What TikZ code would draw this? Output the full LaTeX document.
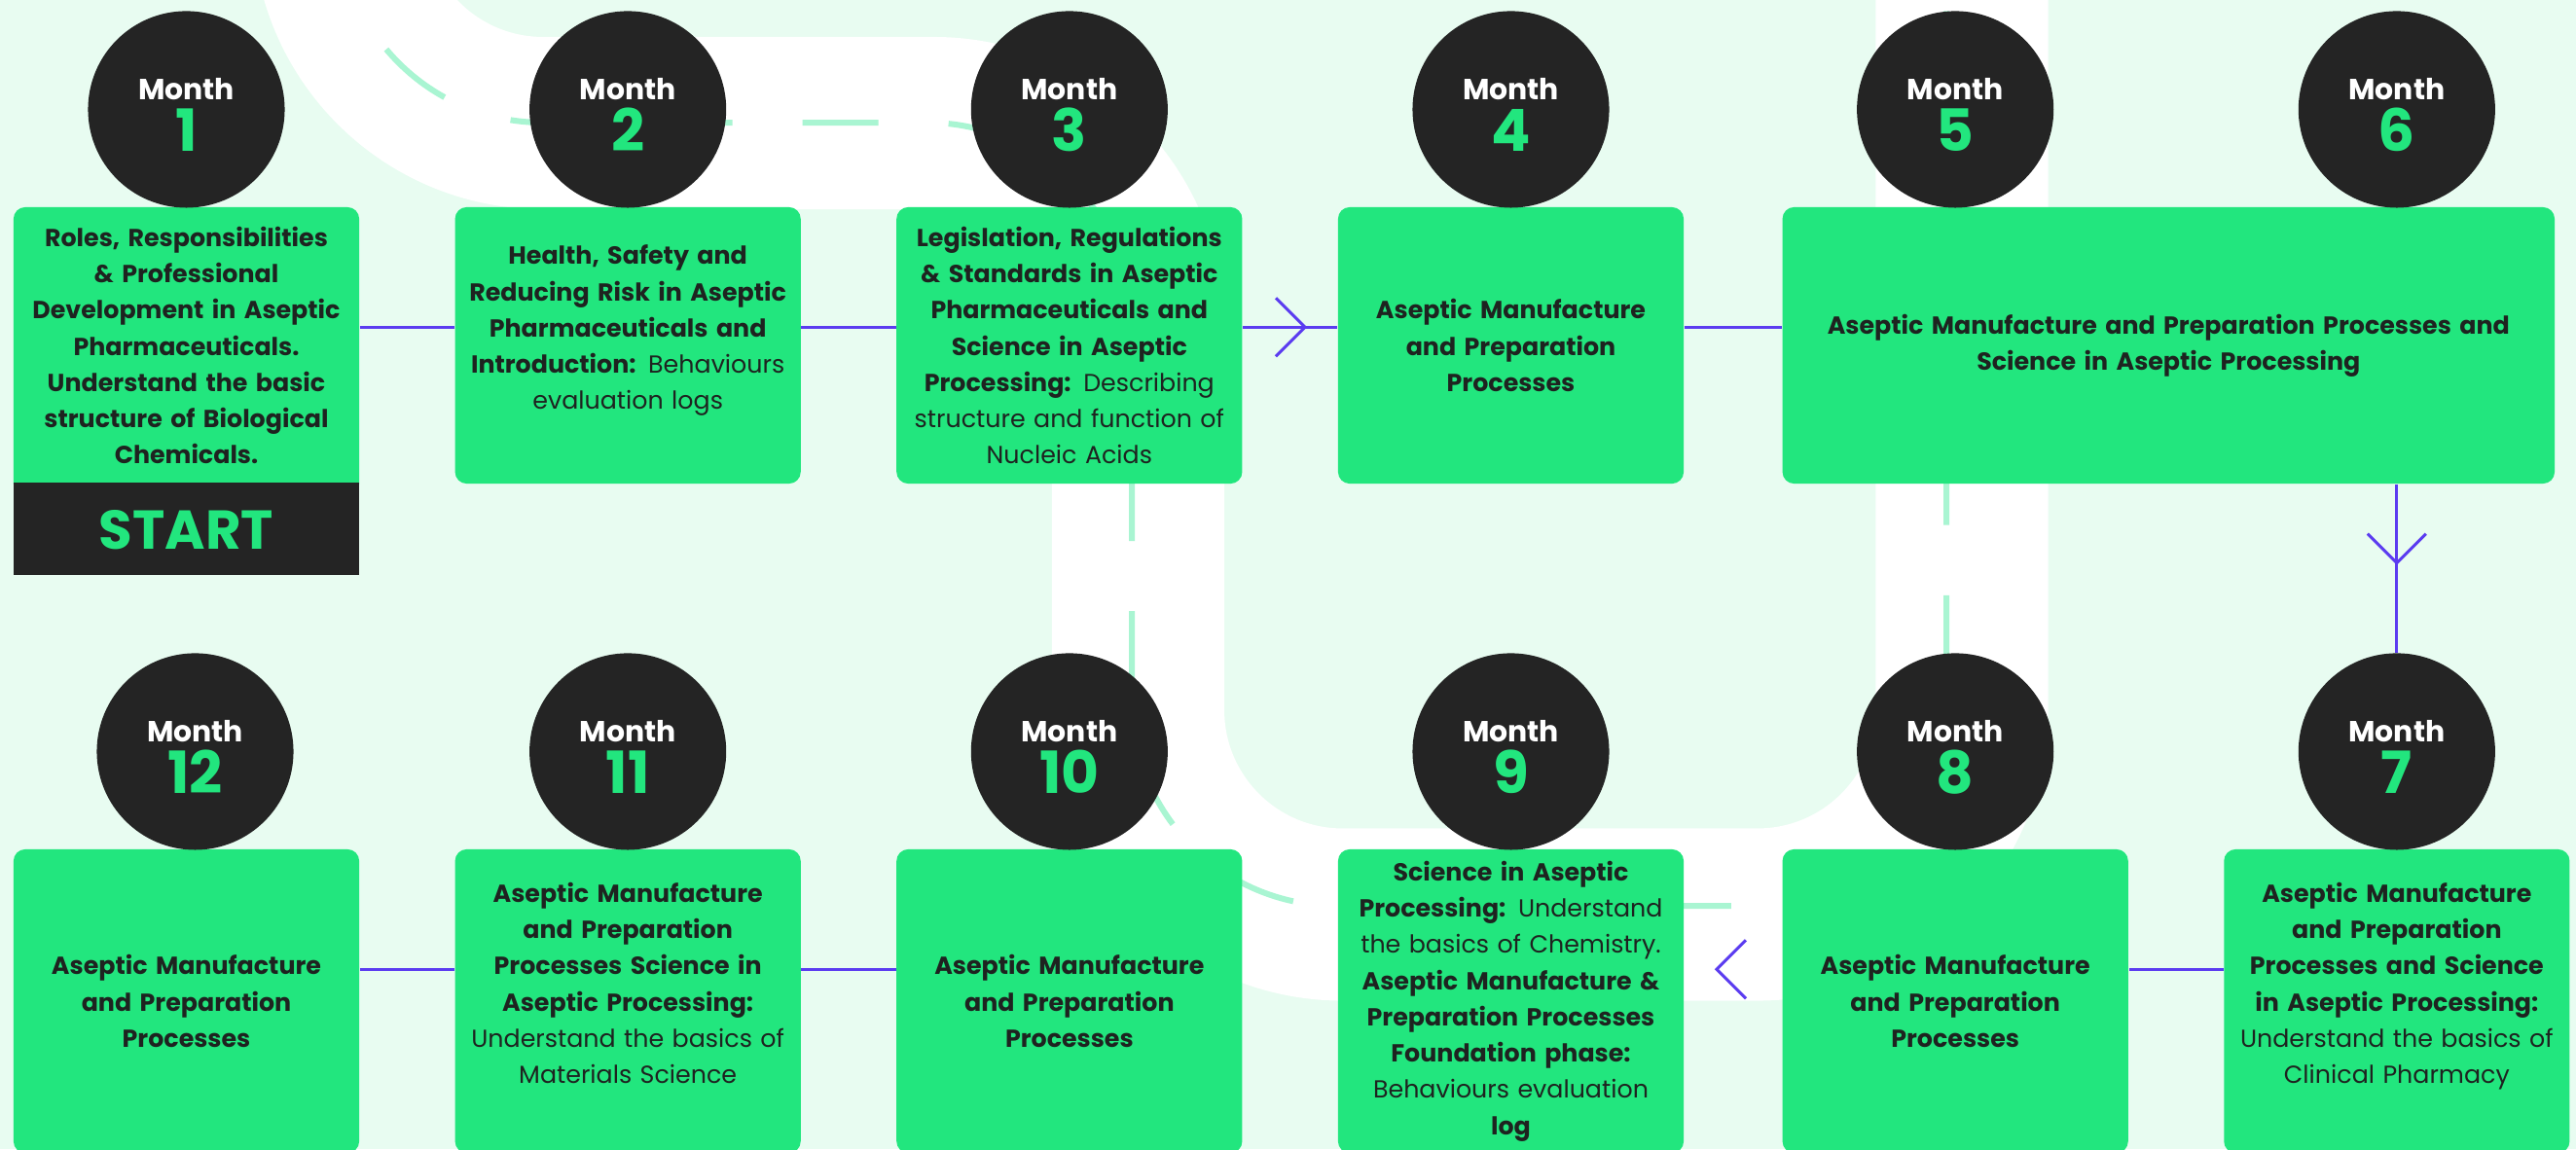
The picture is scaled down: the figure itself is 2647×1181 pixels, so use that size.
\documentclass[tikz,border=0pt]{standalone}
\usepackage{fontspec}
\setmainfont{Poppins}
\usepackage{xcolor}
\usetikzlibrary{arrows.meta,positioning,calc,decorations.markings}

\definecolor{bgmint}{HTML}{E8FCF1}
\definecolor{lanemint}{HTML}{A9F5D2}
\definecolor{boxgreen}{HTML}{22E67E}
\definecolor{numgreen}{HTML}{22E67E}
\definecolor{circdark}{HTML}{242424}
\definecolor{txtdark}{HTML}{1E2320}
\definecolor{linkpurple}{HTML}{5B3CF0}

\newcommand\mnum[1]{{\fontsize{17}{17}\selectfont\color{numgreen}#1}}

\begin{document}
\begin{tikzpicture}[
    x=0.01cm, y=-0.01cm,
    box/.style={rectangle, rounded corners=0.12cm, fill=boxgreen, text=txtdark,
                minimum width=3.55cm, minimum height=#1, text width=3.45cm,
                align=center, inner sep=0pt, font=\fontsize{7.2}{10.6}\selectfont},
    box/.default=2.84cm,
    month/.style={circle, fill=circdark, minimum size=2.02cm, inner sep=0pt,
                  text=white, align=center, text height=24.2pt, text depth=0pt,
                  font=\fontsize{8.5}{15}\selectfont\bfseries},
    startbar/.style={rectangle, fill=circdark, minimum width=3.55cm,
                     minimum height=0.94cm, inner sep=0pt, text=numgreen,
                     text height=12pt, text depth=0pt,
                     font=\fontsize{16}{16}\selectfont\bfseries},
    link/.style={draw=linkpurple, line width=0.03cm},
    barb/.style={postaction={decorate}, decoration={markings,
                 mark=at position #1 with {\arrow[linkpurple, line width=0.03cm]{Straight Barb[length=0.3cm, width=0.6cm]}}}},
    road/.style={draw=white, line width=1.77cm, rounded corners=2.1cm},
    lane/.style={draw=lanemint, line width=0.06cm, rounded corners=2.1cm,
                 dash pattern=on 0.78cm off 0.72cm, dash phase=0.88cm},
  ]
  \useasboundingbox (0,0) rectangle (2647,1181);
  \clip (0,0) rectangle (2647,1181);
  \fill[bgmint] (0,0) rectangle (2647,1181);

  % winding road behind the plan
  \draw[road] (348,-300) -- (348,126.5) -- (1169.5,126.5) -- (1169.5,940) -- (2016,940) -- (2016,-300);
  \draw[lane] (348,-300) -- (348,126) -- (1163,126) -- (1163,931) -- (2000,931) -- (2000,-300);

  % months 1 to 6
  \node[box=2.96cm, text depth=67pt] (box1) at (191.5,361) {{\bfseries Roles, Responsibilities\\ \& Professional\\ Development in Aseptic\\ Pharmaceuticals.\\ Understand the basic\\ structure of Biological\\ Chemicals.}};
  \node[startbar, below=-0.14cm of box1] (go) {START};
  \node[box, right=0.97cm of box1.north east, anchor=north west] (box2) {{\bfseries Health, Safety and\\ Reducing Risk in Aseptic\\ Pharmaceuticals and\\ Introduction:} Behaviours\\ evaluation logs\\ \mbox{}};
  \node[box, right=0.97cm of box2] (box3) {{\bfseries Legislation, Regulations\\ \& Standards in Aseptic\\ Pharmaceuticals and\\ Science in Aseptic\\ Processing:} Describing\\ structure and function of\\ Nucleic Acids};
  \node[box, right=0.97cm of box3] (box4) {{\bfseries Aseptic Manufacture\\ and Preparation\\ Processes}};
  \node[box, right=1cm of box4, minimum width=7.93cm, text width=7.6cm] (box56) {{\bfseries Aseptic Manufacture and Preparation Processes and\\ Science in Aseptic Processing}};

  % months 12 to 7
  \node[box=3.12cm] (box12) at (191.5,1029) {{\bfseries Aseptic Manufacture\\ and Preparation\\ Processes}};
  \node[box=3.12cm, right=0.97cm of box12] (box11) {{\bfseries Aseptic Manufacture\\ and Preparation\\ Processes Science in\\ Aseptic Processing:}\\ Understand the basics of\\ Materials Science\\ \mbox{}};
  \node[box=3.12cm, right=0.97cm of box11] (box10) {{\bfseries Aseptic Manufacture\\ and Preparation\\ Processes}};
  \node[box=3.12cm, right=0.97cm of box10] (box9) {{\bfseries Science in Aseptic\\ Processing:} Understand\\ the basics of Chemistry.\\ {\bfseries Aseptic Manufacture \&\\ Preparation Processes\\ Foundation phase:}\\ Behaviours evaluation\\ {\bfseries log}};
  \node[box=3.12cm, right=1cm of box9] (box8) {{\bfseries Aseptic Manufacture\\ and Preparation\\ Processes}};
  \node[box=3.12cm, right=0.97cm of box8] (box7) {{\bfseries Aseptic Manufacture\\ and Preparation\\ Processes and Science\\ in Aseptic Processing:}\\ Understand the basics of\\ Clinical Pharmacy\\ \mbox{}};

  % month badges
  \node[month, anchor=south] (m1) at ([yshift=-0.02cm]box1.north) {Month\\ \mnum{1}};
  \node[month, above=-0.02cm of box2] (m2) {Month\\ \mnum{2}};
  \node[month, above=-0.02cm of box3] (m3) {Month\\ \mnum{3}};
  \node[month, above=-0.02cm of box4] (m4) {Month\\ \mnum{4}};
  \node[month, anchor=south, yshift=-0.02cm] (m5) at (box56.north -| box8.north) {Month\\ \mnum{5}};
  \node[month, anchor=south, yshift=-0.02cm] (m6) at (box56.north -| box7.north) {Month\\ \mnum{6}};
  \node[month, above=-0.02cm of box12, xshift=0.09cm] (m12) {Month\\ \mnum{12}};
  \node[month, above=-0.02cm of box11] (m11) {Month\\ \mnum{11}};
  \node[month, above=-0.02cm of box10] (m10) {Month\\ \mnum{10}};
  \node[month, above=-0.02cm of box9] (m9) {Month\\ \mnum{9}};
  \node[month, above=-0.02cm of box8] (m8) {Month\\ \mnum{8}};
  \node[month, above=-0.02cm of box7] (m7) {Month\\ \mnum{7}};

  % links
  \draw[link] ([yshift=-1.24cm]box1.north east) -- ([yshift=-1.24cm]box2.north west);
  \draw[link] ([yshift=-1.24cm]box2.north east) -- ([yshift=-1.24cm]box3.north west);
  \draw[link, barb=0.68] ([yshift=-1.24cm]box3.north east) -- ([yshift=-1.24cm]box4.north west);
  \draw[link] ([yshift=-1.24cm]box4.north east) -- ([yshift=-1.24cm]box56.north west);
  \draw[link, barb=0.48] (box56.south -| m7.north) -- (m7.north);
  \draw[link] ([yshift=-1.24cm]box7.north west) -- ([yshift=-1.24cm]box8.north east);
  \path[barb=0.69] ([yshift=-1.24cm]box8.north west) -- ([yshift=-1.24cm]box9.north east);
  \draw[link] ([yshift=-1.24cm]box10.north west) -- ([yshift=-1.24cm]box11.north east);
  \draw[link] ([yshift=-1.24cm]box11.north west) -- ([yshift=-1.24cm]box12.north east);
\end{tikzpicture}
\end{document}
